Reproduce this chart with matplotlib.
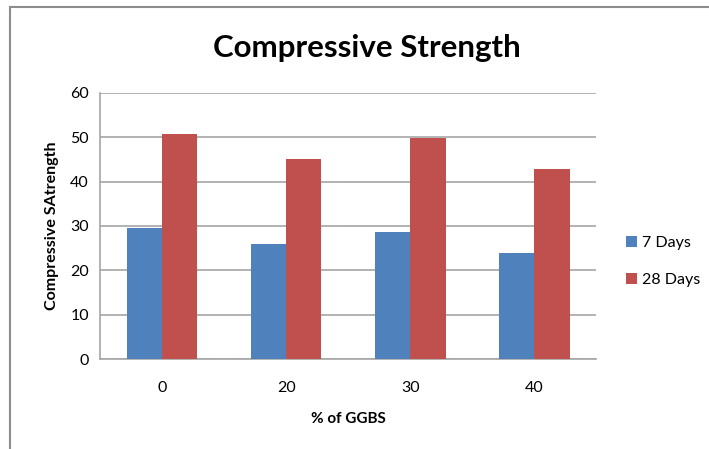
import matplotlib.pyplot as plt
import matplotlib.patches as mpatches
import numpy as np

# data
ggbs = ['0', '20', '30', '40']
days_7 = [29.5, 26.0, 28.6, 23.9]
days_28 = [50.6, 45.0, 49.7, 42.9]

plt.rcParams['font.family'] = ['Lato', 'DejaVu Sans']

fig = plt.figure(figsize=(7.09, 4.49), dpi=100)
ax = fig.add_axes([0.141, 0.2, 0.700, 0.5935])

x = np.arange(len(ggbs))
w = 0.285
ax.bar(x - w/2, days_7, w, color='#4F81BD', label='7 Days', zorder=3)
ax.bar(x + w/2, days_28, w, color='#C0504D', label='28 Days', zorder=3)

ax.set_xlim(-0.5, 3.5)
ax.set_ylim(0, 60)
ax.set_yticks(range(0, 61, 10))
ax.set_xticks(x)
ax.set_xticklabels(ggbs)
ax.yaxis.grid(True, color='#a6a6a6', linewidth=1.2, zorder=0)
ax.tick_params(length=0, labelsize=11.5, pad=8)
ax.tick_params(axis='x', pad=16)
for s in ['top', 'right']:
    ax.spines[s].set_visible(False)
ax.spines['left'].set_color('#a6a6a6')
ax.spines['bottom'].set_color('#a6a6a6')
ax.spines['left'].set_linewidth(1.2)
ax.spines['bottom'].set_linewidth(1.2)

ax.set_ylabel('Compressive SAtrength', fontsize=11.5, fontweight='bold', labelpad=8)
ax.set_xlabel('% of GGBS', fontsize=11, fontweight='bold', labelpad=12)
fig.text(0.517, 0.893, 'Compressive Strength', fontsize=22.5, fontweight='bold',
         ha='center', va='center')

ax.legend(loc='center left', bbox_to_anchor=(1.03, 0.367), frameon=False,
          fontsize=11.5, handlelength=0.7, handleheight=0.7, handletextpad=0.3,
          labelspacing=1.45)

# outer chart border
fig.patches.append(mpatches.Rectangle((10/709, -0.1), 1.2, 1.1 - 7/449,
                                      transform=fig.transFigure, fill=False,
                                      edgecolor='#8c8c8c', linewidth=1.5))

fig.savefig('out.png', dpi=100)
